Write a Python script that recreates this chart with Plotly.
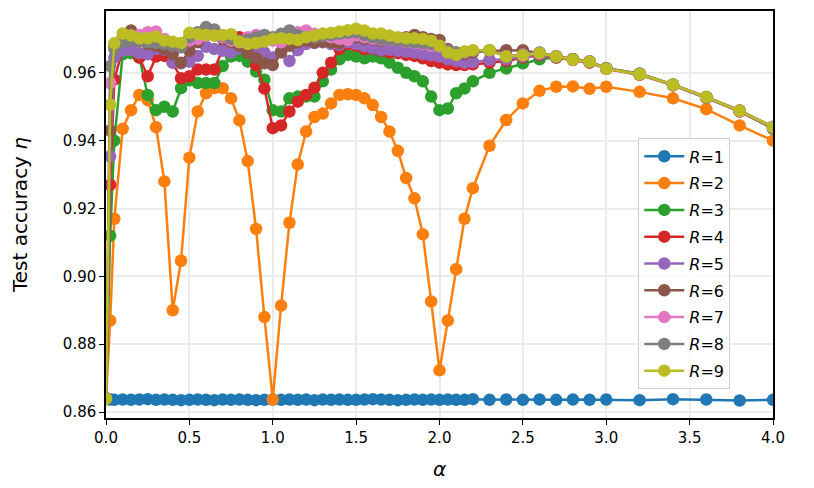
import plotly.graph_objects as go

# alpha grid used for every R curve
alpha = [0.0, 0.025, 0.05,
         0.1, 0.15, 0.2, 0.25, 0.3, 0.35, 0.4, 0.45, 0.5, 0.55, 0.6, 0.65, 0.7, 0.75,
         0.8, 0.85, 0.9, 0.95, 1.0, 1.05, 1.1, 1.15, 1.2, 1.25, 1.3, 1.35, 1.4, 1.45,
         1.5, 1.55, 1.6, 1.65, 1.7, 1.75, 1.8, 1.85, 1.9, 1.95, 2.0, 2.05, 2.1, 2.15, 2.2,
         2.3, 2.4, 2.5, 2.6, 2.7, 2.8, 2.9, 3.0,
         3.2, 3.4, 3.6, 3.8, 4.0]

# test accuracy for each R
acc_r1 = [0.8640, 0.8637, 0.8636,
          0.8637, 0.8636, 0.8637, 0.8638, 0.8636, 0.8637, 0.8636, 0.8635, 0.8636, 0.8637, 0.8636, 0.8635, 0.8637, 0.8636,
          0.8637, 0.8636, 0.8635, 0.8636, 0.8637, 0.8636, 0.8637, 0.8636, 0.8637, 0.8635, 0.8637, 0.8636, 0.8637, 0.8636,
          0.8636, 0.8637, 0.8638, 0.8637, 0.8636, 0.8635, 0.8636, 0.8637, 0.8636, 0.8637, 0.8636, 0.8637, 0.8636, 0.8636, 0.8638,
          0.8636, 0.8637, 0.8636, 0.8637, 0.8636, 0.8637, 0.8636, 0.8637,
          0.8635, 0.8638, 0.8637, 0.8634, 0.8636]

acc_r2 = [0.8640, 0.8870, 0.9170,
          0.9435, 0.9490, 0.9535, 0.9520, 0.9440, 0.9280, 0.8900, 0.9046, 0.9350, 0.9486, 0.9540, 0.9555, 0.9555, 0.9525,
          0.9460, 0.9340, 0.9140, 0.8880, 0.8637, 0.8914, 0.9158, 0.9330, 0.9427, 0.9470, 0.9480, 0.9510, 0.9535, 0.9537,
          0.9535, 0.9525, 0.9505, 0.9470, 0.9427, 0.9370, 0.9290, 0.9230, 0.9124, 0.8926, 0.8723, 0.8870, 0.9021, 0.9170, 0.9260,
          0.9385, 0.9461, 0.9510, 0.9547, 0.9559, 0.9560, 0.9553, 0.9559,
          0.9544, 0.9525, 0.9493, 0.9445, 0.9400]

acc_r3 = [0.8640, 0.9120, 0.9400,
          0.9655, 0.9658, 0.9645, 0.9535, 0.9490, 0.9500, 0.9486, 0.9555, 0.9578, 0.9570, 0.9570, 0.9570, 0.9620, 0.9648,
          0.9650, 0.9633, 0.9604, 0.9580, 0.9490, 0.9486, 0.9525, 0.9530, 0.9530, 0.9530, 0.9575, 0.9610, 0.9640, 0.9653,
          0.9648, 0.9643, 0.9648, 0.9643, 0.9630, 0.9615, 0.9600, 0.9590, 0.9575, 0.9530, 0.9490, 0.9495, 0.9540, 0.9554, 0.9575,
          0.9600, 0.9613, 0.9628, 0.9640, 0.9645, 0.9640, 0.9633, 0.9614,
          0.9598, 0.9565, 0.9528, 0.9488, 0.9435]

acc_r4 = [0.8640, 0.9270, 0.9580,
          0.9670, 0.9680, 0.9645, 0.9590, 0.9648, 0.9650, 0.9630, 0.9584, 0.9590, 0.9610, 0.9610, 0.9610, 0.9670, 0.9690,
          0.9705, 0.9660, 0.9623, 0.9554, 0.9437, 0.9445, 0.9486, 0.9515, 0.9535, 0.9556, 0.9600, 0.9630, 0.9670, 0.9685,
          0.9680, 0.9670, 0.9670, 0.9665, 0.9660, 0.9658, 0.9653, 0.9650, 0.9643, 0.9635, 0.9630, 0.9625, 0.9623, 0.9623, 0.9625,
          0.9630, 0.9635, 0.9645, 0.9652, 0.9645, 0.9638, 0.9630, 0.9612,
          0.9594, 0.9563, 0.9526, 0.9486, 0.9437]

acc_r5 = [0.8640, 0.9354, 0.9645,
          0.9665, 0.9668, 0.9658, 0.9655, 0.9670, 0.9668, 0.9630, 0.9628, 0.9633, 0.9650, 0.9677, 0.9670, 0.9665, 0.9660,
          0.9672, 0.9675, 0.9668, 0.9660, 0.9645, 0.9663, 0.9635, 0.9667, 0.9685, 0.9688, 0.9690, 0.9685, 0.9682, 0.9690,
          0.9685, 0.9678, 0.9672, 0.9667, 0.9668, 0.9665, 0.9662, 0.9660, 0.9655, 0.9652, 0.9648, 0.9640, 0.9635, 0.9630, 0.9632,
          0.9638, 0.9640, 0.9648, 0.9654, 0.9647, 0.9640, 0.9632, 0.9613,
          0.9596, 0.9565, 0.9527, 0.9487, 0.9438]

acc_r6 = [0.8640, 0.9430, 0.9680,
          0.9700, 0.9725, 0.9700, 0.9685, 0.9680, 0.9670, 0.9655, 0.9630, 0.9665, 0.9690, 0.9715, 0.9710, 0.9700, 0.9690,
          0.9680, 0.9660, 0.9643, 0.9628, 0.9623, 0.9660, 0.9680, 0.9690, 0.9695, 0.9690, 0.9692, 0.9690, 0.9687, 0.9700,
          0.9705, 0.9700, 0.9698, 0.9695, 0.9698, 0.9700, 0.9705, 0.9712, 0.9705, 0.9700, 0.9697, 0.9670, 0.9660, 0.9655, 0.9660,
          0.9665, 0.9667, 0.9667, 0.9658, 0.9649, 0.9641, 0.9634, 0.9613,
          0.9597, 0.9566, 0.9529, 0.9489, 0.9441]

acc_r7 = [0.8640, 0.9570, 0.9685,
          0.9705, 0.9710, 0.9712, 0.9720, 0.9722, 0.9700, 0.9685, 0.9680, 0.9695, 0.9700, 0.9710, 0.9712, 0.9705, 0.9695,
          0.9690, 0.9705, 0.9712, 0.9705, 0.9695, 0.9690, 0.9705, 0.9720, 0.9725, 0.9715, 0.9710, 0.9705, 0.9700, 0.9697,
          0.9710, 0.9705, 0.9700, 0.9698, 0.9697, 0.9695, 0.9690, 0.9688, 0.9685, 0.9680, 0.9678, 0.9665, 0.9658, 0.9660, 0.9665,
          0.9666, 0.9649, 0.9654, 0.9659, 0.9649, 0.9640, 0.9634, 0.9612,
          0.9596, 0.9565, 0.9528, 0.9488, 0.9440]

acc_r8 = [0.8640, 0.9620, 0.9670,
          0.9690, 0.9695, 0.9692, 0.9690, 0.9688, 0.9685, 0.9680, 0.9675, 0.9705, 0.9720, 0.9735, 0.9728, 0.9710, 0.9700,
          0.9695, 0.9698, 0.9705, 0.9712, 0.9705, 0.9715, 0.9725, 0.9712, 0.9705, 0.9705, 0.9710, 0.9712, 0.9715, 0.9718,
          0.9720, 0.9712, 0.9705, 0.9700, 0.9698, 0.9695, 0.9692, 0.9690, 0.9688, 0.9685, 0.9680, 0.9665, 0.9660, 0.9662, 0.9665,
          0.9667, 0.9648, 0.9653, 0.9660, 0.9648, 0.9640, 0.9633, 0.9613,
          0.9596, 0.9565, 0.9528, 0.9488, 0.9440]

acc_r9 = [0.8640, 0.9506, 0.9687,
          0.9716, 0.9710, 0.9702, 0.9702, 0.9707, 0.9695, 0.9692, 0.9688, 0.9718, 0.9714, 0.9712, 0.9710, 0.9712, 0.9714,
          0.9692, 0.9685, 0.9688, 0.9692, 0.9700, 0.9702, 0.9700, 0.9697, 0.9705, 0.9710, 0.9716, 0.9718, 0.9722, 0.9726,
          0.9730, 0.9725, 0.9716, 0.9716, 0.9710, 0.9705, 0.9702, 0.9702, 0.9700, 0.9695, 0.9680, 0.9660, 0.9653, 0.9663, 0.9667,
          0.9667, 0.9648, 0.9652, 0.9658, 0.9648, 0.9639, 0.9633, 0.9612,
          0.9596, 0.9565, 0.9528, 0.9488, 0.9440]

series = [acc_r1, acc_r2, acc_r3, acc_r4, acc_r5, acc_r6, acc_r7, acc_r8, acc_r9]
labels = ["<i>R</i>=%d" % (i + 1) for i in range(len(series))]

# matplotlib tab10
colors = ["#1f77b4", "#ff7f0e", "#2ca02c", "#d62728", "#9467bd",
          "#8c564b", "#e377c2", "#7f7f7f", "#bcbd22"]

x_ticks = [0.0, 0.5, 1.0, 1.5, 2.0, 2.5, 3.0, 3.5, 4.0]
y_ticks = [0.86, 0.88, 0.90, 0.92, 0.94, 0.96]

FONT = "DejaVu Sans"

fig = go.Figure()

for acc, name, col in zip(series, labels, colors):
    fig.add_trace(go.Scatter(
        x=alpha, y=acc,
        mode="lines+markers",
        name=name,
        legendgroup=name,
        line=dict(color=col, width=2.5),
        marker=dict(color=col, size=12.5),
    ))

fig.update_layout(
    width=814, height=488,
    margin=dict(l=106, r=41, t=9, b=70),
    paper_bgcolor="white",
    plot_bgcolor="white",
    font=dict(family=FONT, size=15, color="black"),
    legend=dict(
        x=0.798, y=0.687, xanchor="left", yanchor="top",
        bgcolor="rgba(255,255,255,0.8)",
        bordercolor="#cccccc", borderwidth=1,
        font=dict(family=FONT, size=16),
        tracegroupgap=3,
        itemwidth=40,
    ),
)

fig.update_xaxes(
    range=[0, 4],
    tickvals=x_ticks, tickformat=".1f",
    ticks="outside", ticklen=5, tickwidth=1.2, tickcolor="black",
    showline=True, linecolor="black", linewidth=1.5, mirror=True,
    showgrid=True, gridcolor="#ebebeb", gridwidth=1.5,
    zeroline=False,
    title=dict(text="<i>α</i>", font=dict(size=20), standoff=16),
)
fig.update_yaxes(
    range=[0.85824, 0.97824],
    tickvals=y_ticks, tickformat=".2f",
    ticks="outside", ticklen=5, tickwidth=1.2, tickcolor="black",
    showline=True, linecolor="black", linewidth=1.5, mirror=True,
    showgrid=True, gridcolor="#ebebeb", gridwidth=1.5,
    zeroline=False,
    title=dict(text="Test accuracy <i>η</i>", font=dict(size=20), standoff=30),
)

# drop the browser's default page margin so the figure sits at the window origin
fig.write_html("out.html",
               config={"displayModeBar": False},
               post_script="document.body.style.margin='0';")
